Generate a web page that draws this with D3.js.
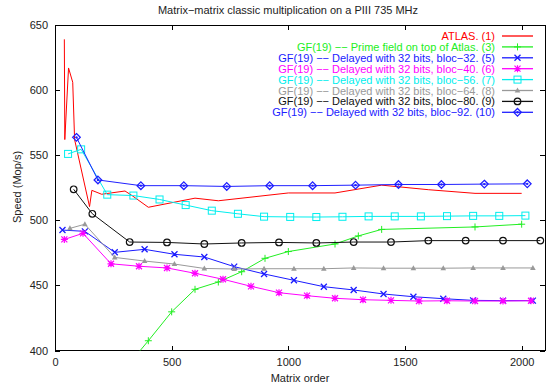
<!DOCTYPE html>
<html lang="en">
<head>
<meta charset="utf-8">
<title>Matrix-matrix classic multiplication</title>
<style>
  body { margin: 0; background: #fff; }
  svg text { font-family: "Liberation Sans", Arial, sans-serif; font-size: 11px; fill: #222; }
  .frame { fill: none; stroke: #000; stroke-width: 1; shape-rendering: crispEdges; }
  .tick line { stroke: #000; shape-rendering: crispEdges; }
</style>
</head>
<body>
<div id="chart"></div>
<script src="https://d3js.org/d3.v7.min.js"></script>
<script>
// ---- data ----
var xTicks = [0, 500, 1000, 1500, 2000];
var yTicks = [400, 450, 500, 550, 600, 650];

var atlasX = [40, 42, 58, 76, 84, 148, 158, 200, 300, 330, 400, 600, 700, 1000, 1200, 1400, 1600, 1800, 2000];
var atlasY = [639, 562, 617, 606, 562, 510.5, 523, 520, 522.5, 519, 510, 517, 515, 521, 521, 527, 523.5, 520.7, 520.7];

var primeX = [300, 400, 500, 600, 700, 800, 900, 1000, 1200, 1300, 1400, 1800, 2000];
var primeY = [386, 407.5, 429.7, 447, 452.6, 460.5, 470.8, 476, 481.8, 488, 493, 494.9, 497];

var b32X = [32, 128, 256, 384, 512, 640, 768, 896, 1024, 1152, 1280, 1408, 1536, 1664, 1792, 1920, 2048];
var b32Y = [492.5, 491.5, 475.4, 477.7, 473.9, 471.8, 464.4, 458.8, 453.9, 449, 446.5, 443.4, 441.3, 439.8, 438.5, 438.3, 438.3];

var b40X = [40, 120, 240, 360, 480, 600, 720, 840, 960, 1080, 1200, 1320, 1440, 1560, 1680, 1800, 1920, 2040];
var b40Y = [485.3, 490, 466.6, 464.7, 463.4, 459.3, 454.7, 449.3, 444.4, 442.1, 440.1, 439, 438.5, 438, 438.2, 438, 438, 438.2];

var b56X = [56, 112, 224, 336, 448, 560, 672, 784, 896, 1008, 1120, 1232, 1344, 1456, 1568, 1680, 1792, 1904, 2016];
var b56Y = [551, 554.5, 519.7, 519, 516, 511.7, 507.4, 505, 502.8, 502.6, 502.5, 502.7, 503, 503, 503, 503.2, 503.4, 503.4, 503.6];

var b64X = [64, 128, 256, 384, 512, 640, 768, 896, 1024, 1152, 1280, 1408, 1536, 1664, 1792, 1920, 2048];
var b64Y = [493.8, 497, 471.5, 468.7, 466.4, 463, 462.6, 462.8, 462.8, 462.8, 463.4, 463.2, 463.2, 463.2, 463.4, 463.4, 463.4];

var b80X = [80, 160, 320, 480, 640, 800, 960, 1120, 1280, 1440, 1600, 1760, 1920, 2080];
var b80Y = [523.8, 505, 483.3, 483, 481.8, 482.6, 483, 482.6, 483.3, 483.3, 484.4, 484.4, 484.4, 484.4];

var b92X = [92, 184, 368, 552, 736, 920, 1104, 1288, 1472, 1656, 1840, 2024];
var b92Y = [563.7, 531, 526.6, 526.6, 526, 526.6, 526.6, 527, 527.5, 527.5, 527.8, 528];

var dash = " \u2212\u2212 ";
var series = [
  { name: "ATLAS. (1)", x: atlasX, y: atlasY, color: "#ff0000", mark: null },
  { name: "GF(19)" + dash + "Prime field on top of Atlas. (3)", x: primeX, y: primeY, color: "#22ee22", mark: "plus" },
  { name: "GF(19)" + dash + "Delayed with 32 bits, bloc\u221232. (5)", x: b32X, y: b32Y, color: "#1a1aff", mark: "cross" },
  { name: "GF(19)" + dash + "Delayed with 32 bits, bloc\u221240. (6)", x: b40X, y: b40Y, color: "#ff00ff", mark: "star" },
  { name: "GF(19)" + dash + "Delayed with 32 bits, bloc\u221256. (7)", x: b56X, y: b56Y, color: "#00eeee", mark: "square" },
  { name: "GF(19)" + dash + "Delayed with 32 bits, bloc\u221264. (8)", x: b64X, y: b64Y, color: "#999999", mark: "triangle" },
  { name: "GF(19)" + dash + "Delayed with 32 bits, bloc\u221280. (9)", x: b80X, y: b80Y, color: "#111111", mark: "circle" },
  { name: "GF(19)" + dash + "Delayed with 32 bits, bloc\u221292. (10)", x: b92X, y: b92Y, color: "#2020ff", mark: "diamond" }
];

// ---- layout ----
var W = 552, H = 388;
var margin = { top: 25, right: 7, bottom: 37.5, left: 55 };
var width = W - margin.left - margin.right,
    height = H - margin.top - margin.bottom;

var svg = d3.select("#chart").append("svg")
    .attr("width", W)
    .attr("height", H);

var x = d3.scaleLinear().domain([0, 2100]).range([0, width]);
var y = d3.scaleLinear().domain([400, 650]).range([height, 0]);

var g = svg.append("g")
    .attr("transform", "translate(" + margin.left + "," + margin.top + ")");

svg.append("defs").append("clipPath").attr("id", "plotclip")
  .append("rect").attr("width", width).attr("height", height);

// axes, ticks drawn inside the frame (and mirrored)
g.append("g").attr("transform", "translate(0," + height + ")")
  .call(d3.axisBottom(x).tickValues(xTicks).tickFormat(d3.format("d")).tickSizeInner(-5).tickSizeOuter(0).tickPadding(8))
  .call(function(a) { a.select(".domain").remove(); });
g.append("g")
  .call(d3.axisTop(x).tickValues(xTicks).tickSizeInner(-5).tickSizeOuter(0).tickFormat(""))
  .call(function(a) { a.select(".domain").remove(); });
g.append("g")
  .call(d3.axisLeft(y).tickValues(yTicks).tickSizeInner(-5).tickSizeOuter(0).tickPadding(7))
  .call(function(a) { a.select(".domain").remove(); });
g.append("g").attr("transform", "translate(" + width + ",0)")
  .call(d3.axisRight(y).tickValues(yTicks).tickSizeInner(-5).tickSizeOuter(0).tickFormat(""))
  .call(function(a) { a.select(".domain").remove(); });

g.selectAll(".tick text").style("font-size", "11px").attr("fill", "#222");

g.append("rect").attr("class", "frame").attr("width", width).attr("height", height);

// titles
svg.append("text").attr("x", 288).attr("y", 14).attr("text-anchor", "middle")
  .text("Matrix\u2212matrix classic multiplication on a PIII 735 MHz");
svg.append("text").attr("x", margin.left + width / 2).attr("y", 382).attr("text-anchor", "middle")
  .text("Matrix order");
svg.append("text").attr("transform", "translate(21," + 187 + ") rotate(-90)")
  .attr("text-anchor", "middle").text("Speed (Mop/s)");

// marker shapes
function drawMark(sel, type, color) {
  var s = 3.5;
  if (type === "plus") {
    sel.append("path").attr("d", "M" + -s + ",0H" + s + "M0," + -s + "V" + s)
      .attr("stroke", color).attr("fill", "none");
  } else if (type === "cross") {
    sel.append("path").attr("d", "M-3,-3L3,3M-3,3L3,-3")
      .attr("stroke", color).attr("stroke-width", 1.3).attr("fill", "none");
  } else if (type === "star") {
    sel.append("path").attr("d", "M-3,-3L3,3M-3,3L3,-3M-3.5,0H3.5M0,-3.5V3.5")
      .attr("stroke", color).attr("stroke-width", 1.2).attr("fill", "none");
  } else if (type === "square") {
    sel.append("rect").attr("x", -3.5).attr("y", -3.5).attr("width", 7).attr("height", 7)
      .attr("stroke", color).attr("fill", "none");
  } else if (type === "triangle") {
    sel.append("path").attr("d", "M0,-3L2.8,2L-2.8,2Z").attr("fill", color);
  } else if (type === "circle") {
    sel.append("circle").attr("r", 3.3).attr("stroke", color).attr("stroke-width", 1.2).attr("fill", "none");
  } else if (type === "diamond") {
    sel.append("path").attr("d", "M0,-3.8L3.8,0L0,3.8L-3.8,0Z")
      .attr("stroke", color).attr("stroke-width", 1.3).attr("fill", "none");
    sel.append("circle").attr("r", 1.2).attr("fill", color);
  }
}

var line = d3.line().x(function(d) { return x(d[0]); }).y(function(d) { return y(d[1]); });

var plot = g.append("g").attr("clip-path", "url(#plotclip)");

series.forEach(function(s) {
  var pts = s.x.map(function(v, i) { return [v, s.y[i]]; });
  plot.append("path").datum(pts).attr("d", line)
    .attr("fill", "none").attr("stroke", s.color).attr("stroke-width", 1);
  if (s.mark) {
    plot.selectAll(null).data(pts.filter(function(d) { return d[1] >= 400; }))
      .enter().append("g")
      .attr("transform", function(d) { return "translate(" + x(d[0]) + "," + y(d[1]) + ")"; })
      .each(function() { drawMark(d3.select(this), s.mark, s.color); });
  }
});

// legend, top right
var legend = svg.append("g");
series.forEach(function(s, i) {
  var ly = 36 + i * 10.9;
  legend.append("text").attr("x", 495).attr("y", ly + 4).attr("text-anchor", "end")
    .style("fill", s.color).text(s.name);
  legend.append("line").attr("x1", 502).attr("x2", 533).attr("y1", ly).attr("y2", ly)
    .attr("stroke", s.color).attr("stroke-width", 1.3);
  if (s.mark) {
    var m = legend.append("g").attr("transform", "translate(517.5," + ly + ")");
    drawMark(m, s.mark, s.color);
  }
});
</script>
</body>
</html>
